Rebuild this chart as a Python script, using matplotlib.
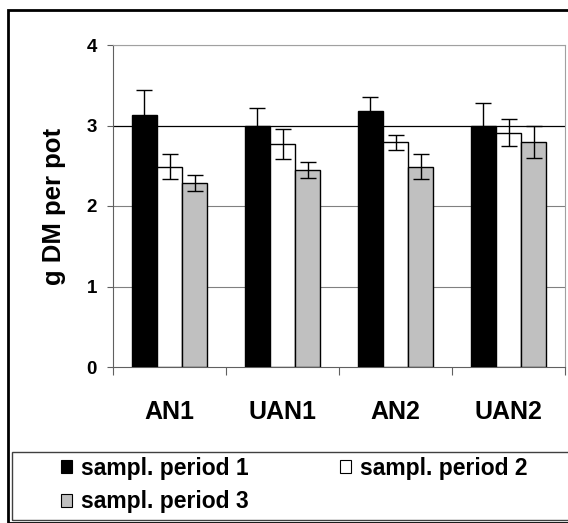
import numpy as np
import matplotlib.pyplot as plt
from matplotlib.patches import Rectangle

plt.rcParams['font.family'] = ['Liberation Sans', 'DejaVu Sans']
plt.rcParams['font.weight'] = 'bold'

# data
groups = ['AN1', 'UAN1', 'AN2', 'UAN2']
period1 = [3.13, 3.00, 3.18, 3.00]
period1_err = [0.31, 0.22, 0.18, 0.28]
period2 = [2.49, 2.77, 2.79, 2.91]
period2_err = [0.15, 0.19, 0.09, 0.17]
period3 = [2.29, 2.45, 2.49, 2.80]
period3_err = [0.10, 0.10, 0.15, 0.20]
labels = ['sampl. period 1', 'sampl. period 2', 'sampl. period 3']
colors = ['black', 'white', '#c0c0c0']

fig = plt.figure(figsize=(5.68, 5.23), dpi=100)
ax = fig.add_axes([113/568, 156/523, 452/568, 322/523])

x = np.arange(len(groups))
w = 1 / 4.5
series = [(period1, period1_err), (period2, period2_err), (period3, period3_err)]
bars = []
for i, (vals, errs) in enumerate(series):
    b = ax.bar(x + (i - 1) * w, vals, w, yerr=errs, color=colors[i],
               edgecolor='black', linewidth=1, label=labels[i], zorder=3,
               error_kw=dict(ecolor='black', elinewidth=1, capsize=6, capthick=1))
    bars.append(b)

ax.set_xlim(-0.5, 3.5)
ax.set_ylim(0, 4)
ax.set_yticks([0, 1, 2, 3, 4])
for yv in [1, 2, 4]:
    ax.axhline(yv, color='#808080', lw=0.8, zorder=1)
ax.axhline(3, color='black', lw=0.9, zorder=1)

ax.set_xticks(np.arange(-0.5, 4, 1))
ax.set_xticklabels([])
ax.set_xticks(x, minor=True)
ax.set_xticklabels(groups, minor=True, fontsize=18, fontweight='bold')
ax.tick_params(axis='x', which='minor', length=0, pad=24)
ax.tick_params(axis='x', which='major', length=6, direction='out', width=0.8, color='#606060')
ax.tick_params(axis='y', length=4.5, direction='out', labelsize=13.5, width=0.8,
               color='#606060', pad=7)
ax.set_ylabel('g DM per pot', fontsize=18.5, fontweight='bold')
ax.yaxis.set_label_coords(-0.104, 0.5)

for s in ['top', 'right']:
    ax.spines[s].set_color('#a0a0a0')
for s in ['left', 'bottom']:
    ax.spines[s].set_color('#606060')

# outer frame
fig.add_artist(Rectangle((8/568, 0), 562/568, 513/523, transform=fig.transFigure,
                         fill=False, edgecolor='black', lw=2))
# legend box
fig.add_artist(Rectangle((12/568, 3/523), 558/568, 68/523, transform=fig.transFigure,
                         fill=False, edgecolor='#404040', lw=1))

# legend filled row-wise: period 1, period 2 / period 3
order = [0, 2, 1]
leg = fig.legend(handles=[bars[i] for i in order], labels=[labels[i] for i in order],
                 ncol=2, loc='upper left', bbox_to_anchor=(61/568, 1 - 457/523),
                 fontsize=16.5, frameon=False, handlelength=0.48, handleheight=0.48,
                 handletextpad=0.39, columnspacing=4.0, borderaxespad=0,
                 borderpad=0, labelspacing=0.45)
for h in leg.legend_handles:
    h.set_linewidth(0.8)

fig.savefig('out.png', dpi=100)
